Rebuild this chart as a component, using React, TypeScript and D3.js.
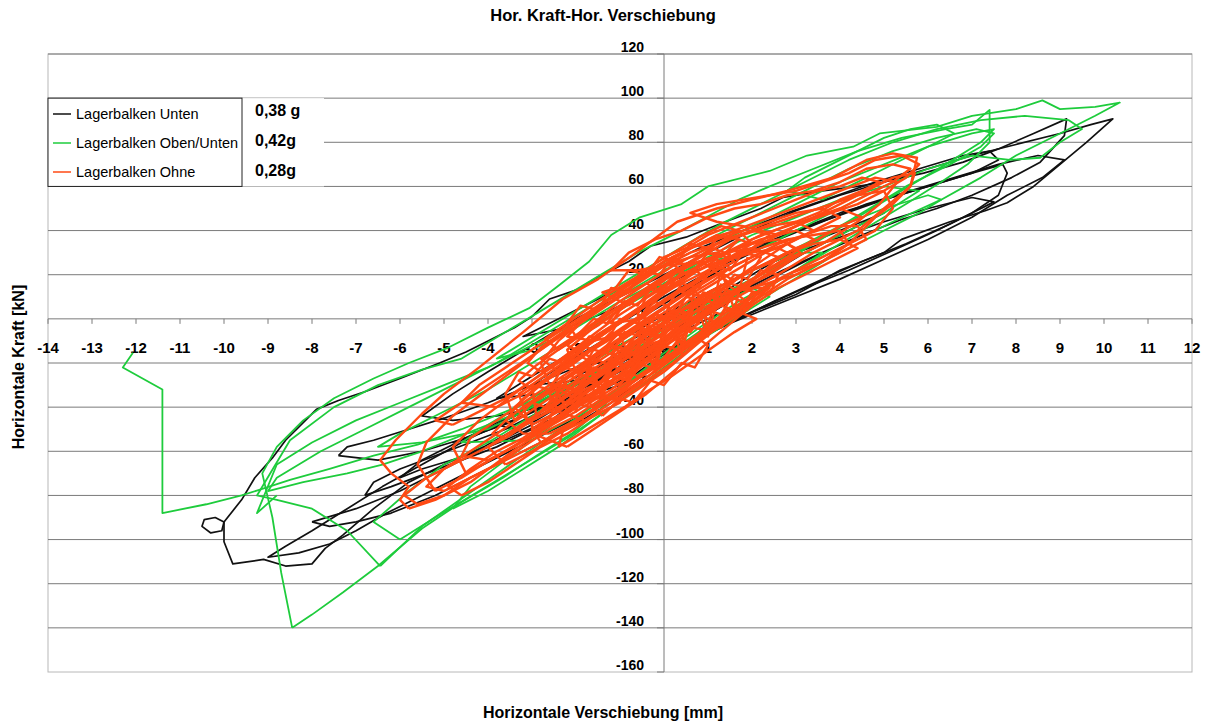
import React from 'react';
import * as d3 from 'd3';

const W = 1207;
const H = 722;

const xTickValues = [-14, -13, -12, -11, -10, -9, -8, -7, -6, -5, -4, -3, -2, -1, 0, 1, 2, 3, 4, 5, 6, 7, 8, 9, 10, 11, 12];
const yTickValues = [-160, -140, -120, -100, -80, -60, -40, -20, 0, 20, 40, 60, 80, 100, 120];

const seriesNames = ['Lagerbalken Unten', 'Lagerbalken Oben/Unten', 'Lagerbalken Ohne'];
const seriesLabels = ['0,38 g', '0,42g', '0,28g'];
const seriesColors = ['#111111', '#1ecc3c', '#ff4a14'];
const seriesWidths = [1.7, 1.8, 2.4];

type P = [number, number];

const blackLoops: P[][] = [
  [[-0.2,-15],[-1.2,-26],[-2.3,-38],[-3.2,-48],[-4.1,-58],[-5.0,-66],[-5.8,-74],[-6.6,-86],[-7.3,-98],[-7.7,-104],[-8.0,-111],[-8.6,-112],[-9.1,-109],[-9.8,-111],[-10.0,-101],[-10.0,-92],[-9.6,-82],[-9.3,-72],[-8.9,-63],[-8.6,-55],[-8.2,-47],[-7.9,-41],[-7.4,-37],[-6.8,-33],[-6.0,-27],[-5.1,-20],[-4.5,-15],[-4.0,-10],[-3.4,-4],[-3.0,1],[-2.6,9],[-2.0,13],[-1.5,19],[-0.8,26],[-0.3,33],[0.5,37],[1.4,44],[2.2,50],[2.7,55],[3.6,58],[4.4,60],[5.0,62],[5.9,66],[6.8,71],[7.6,77],[8.4,84],[9.15,90.6],[9.1,83],[8.55,71],[7.9,64],[7.0,56],[6.2,50],[5.4,45],[4.5,38],[3.6,30],[2.7,22],[1.8,13],[1.0,5],[0.3,-4],[-0.2,-15]],
  [[-10.0,-92],[-10.2,-90],[-10.45,-91],[-10.5,-94],[-10.3,-97],[-10.05,-96],[-10.0,-92]],
  [[-1.0,-30],[-0.3,-20],[0.3,-12],[1.0,-6],[2.0,3],[3.0,11],[4.0,22],[5.0,30],[5.4,36],[6.5,44],[7.3,49],[7.8,52.6],[8.4,60],[9.0,70],[9.6,80],[10.2,90.6],[9.7,88],[9.0,84],[8.0,79],[7.0,74],[6.0,68],[5.0,62],[4.0,56],[3.0,49],[2.0,40],[1.0,30],[0.0,20],[-1.0,10],[-2.0,0],[-3.0,-12],[-4.0,-24],[-4.8,-34],[-5.5,-44],[-4.8,-46],[-3.8,-44],[-2.8,-40],[-1.8,-35],[-1.0,-30]],
  [[-1.5,-40],[-2.5,-50],[-3.5,-60],[-4.5,-70],[-5.5,-80],[-6.3,-88],[-7.0,-96],[-7.6,-102],[-8.3,-106],[-9.0,-108],[-8.6,-103],[-8.0,-96],[-7.2,-86],[-6.4,-76],[-5.5,-66],[-4.6,-56],[-3.6,-46],[-2.6,-36],[-1.6,-26],[-0.6,-16],[0.4,-6],[1.2,2],[0.6,-10],[-0.4,-24],[-1.5,-40]],
  [[-7.4,-62],[-7.2,-58],[-6.6,-55],[-5.8,-50],[-5.0,-45],[-4.0,-38],[-3.0,-30],[-2.0,-22],[-1.0,-12],[0.0,-2],[1.0,8],[2.0,16],[1.5,8],[0.5,-4],[-0.5,-16],[-1.5,-28],[-2.5,-38],[-3.5,-47],[-4.5,-54],[-5.5,-60],[-6.5,-64],[-7.4,-62]],
  [[-8.0,-92],[-7.6,-94],[-7.0,-92],[-6.2,-88],[-5.2,-80],[-4.2,-70],[-3.2,-60],[-2.2,-50],[-1.2,-38],[-0.4,-26],[-1.0,-28],[-2.0,-38],[-3.0,-48],[-4.0,-58],[-5.0,-68],[-6.0,-78],[-7.0,-86],[-8.0,-92]],
  [[0.0,-16],[1.0,-6],[2.0,2],[3.0,10],[4.0,18],[5.0,27],[6.0,36],[7.0,46],[7.8,56],[8.6,64],[9.1,72],[8.5,74],[7.6,70],[6.6,64],[5.6,58],[4.6,52],[3.6,44],[2.6,36],[1.6,26],[0.6,14],[-0.4,2],[-1.4,-10],[-2.4,-22],[-3.0,-30],[-2.0,-28],[-1.0,-22],[0.0,-16]],
  [[0.2,-14],[1.2,-4],[2.2,5],[3.2,14],[4.2,22],[5.2,31],[6.2,40],[7.0,48],[7.6,56],[7.8,66],[7.7,70],[7.0,66],[6.0,60],[5.0,54],[4.0,48],[3.0,40],[2.0,31],[1.0,21],[0.0,10],[-1.0,-2],[-2.0,-14],[-3.0,-26],[-3.8,-36],[-2.8,-34],[-1.8,-28],[-0.8,-22],[0.2,-14]],
  [[0.5,-12],[1.5,-2],[2.5,8],[3.5,17],[4.5,26],[5.5,34],[6.5,43],[7.5,53],[7.0,55],[6.0,50],[5.0,44],[4.0,37],[3.0,30],[2.0,22],[1.0,12],[0.0,2],[-1.0,-10],[-2.0,-22],[-1.0,-18],[0.5,-12]],
  [[-1.0,-20],[-2.0,-30],[-3.0,-40],[-4.0,-50],[-4.8,-56],[-4.2,-52],[-3.2,-44],[-2.2,-34],[-1.2,-24],[-0.2,-12],[0.8,0],[1.8,12],[2.8,22],[3.6,30],[3.0,24],[2.0,14],[1.0,2],[0.0,-9],[-1.0,-20]],
  [[-2.5,-45],[-3.5,-54],[-4.5,-62],[-5.5,-68],[-6.0,-72],[-5.5,-64],[-4.5,-54],[-3.5,-44],[-2.5,-34],[-1.5,-22],[-0.5,-10],[0.5,2],[1.5,14],[2.5,26],[3.5,36],[4.5,44],[5.0,48],[4.2,40],[3.2,30],[2.2,18],[1.2,6],[0.2,-8],[-0.8,-20],[-1.8,-34],[-2.5,-45]],
  [[3.0,40],[4.0,47],[5.0,54],[6.0,60],[7.0,66],[7.6,72],[7.4,76],[6.8,74],[5.8,68],[4.8,62],[3.8,55],[2.8,48],[1.8,40],[0.8,32],[-0.2,22],[-1.2,12],[-2.2,2],[-3.2,-8],[-2.2,-4],[-1.2,4],[-0.2,14],[1.0,24],[2.0,32],[3.0,40]],
  [[-6.8,-80],[-6.2,-76],[-5.4,-70],[-4.6,-64],[-3.8,-58],[-3.0,-50],[-2.2,-42],[-1.6,-36],[-2.0,-34],[-2.8,-42],[-3.6,-50],[-4.4,-56],[-5.2,-62],[-6.0,-68],[-6.6,-74],[-6.8,-80]],
  [[-3.4,-50],[-2.9,-46],[-2.4,-40],[-1.9,-34],[-1.4,-26],[-1.8,-24],[-2.3,-30],[-2.8,-36],[-3.3,-42],[-3.8,-48],[-3.4,-50]],
];

const greenLoops: P[][] = [
  [[-8.45,-140],[-8.0,-134],[-7.3,-124],[-6.5,-112],[-5.5,-95],[-4.6,-83],[-3.66,-72],[-2.9,-62],[-2.1,-52],[-1.5,-42],[-1.0,-32],[-0.1,-17],[0.8,-4],[1.7,8],[2.8,20],[4.0,32],[5.2,44],[6.3,54],[7.2,64],[8.0,74],[9.0,84],[9.8,92],[10.36,98],[9.8,96],[9.0,95],[8.6,99],[8.0,95],[7.0,92],[6.2,87],[4.9,84],[4.3,78],[3.25,74],[2.4,67],[1.0,60],[0.4,52],[-0.55,46],[-1.2,38],[-1.7,26],[-2.4,15],[-3.05,5],[-4.0,-4],[-4.9,-13],[-5.8,-20],[-6.6,-27],[-7.5,-36],[-8.2,-46],[-8.8,-58],[-9.13,-70],[-8.9,-90],[-8.7,-115],[-8.45,-140]],
  [[-6.45,-112],[-5.5,-94],[-4.5,-80],[-3.5,-66],[-2.5,-52],[-1.5,-38],[-0.5,-24],[0.5,-10],[1.5,4],[2.5,16],[3.5,28],[4.5,40],[5.5,52],[6.3,62],[6.9,70],[7.4,80],[7.4,94.7],[7.0,88],[6.4,86],[5.4,82],[4.4,76],[3.4,68],[2.4,60],[1.7,54],[0.4,40],[-0.6,30],[-1.6,18],[-2.6,6],[-3.6,-6],[-4.6,-18],[-5.5,-23],[-6.5,-30],[-7.5,-40],[-8.5,-55],[-9.25,-80],[-8.8,-82],[-8.0,-86],[-7.2,-96],[-6.45,-112]],
  [[-12.07,-15.4],[-12.3,-22],[-11.4,-32],[-11.4,-88],[-10.4,-84],[-9.6,-80],[-9.2,-77.5],[-8.5,-73],[-7.6,-68],[-6.6,-62],[-5.6,-57],[-4.6,-50],[-3.6,-42],[-2.6,-34],[-1.6,-24],[-0.6,-12],[0.4,0],[1.4,12],[2.4,22],[3.4,34],[4.4,46],[5.4,58],[6.4,70],[7.2,80],[7.5,86],[7.0,84],[6.0,78],[5.0,70],[4.0,62],[3.0,52],[2.0,42],[1.0,32],[0.0,22],[-1.0,10],[-2.0,-2],[-3.0,-12],[-4.0,-22],[-5.0,-30],[-6.0,-38],[-7.0,-46],[-8.0,-56],[-8.8,-66],[-9.25,-88],[-8.8,-80]],
  [[-5.5,-60],[-4.5,-52],[-3.5,-44],[-2.5,-34],[-1.5,-24],[-0.5,-12],[0.5,0],[1.5,12],[2.5,24],[3.5,36],[4.5,48],[5.5,60],[6.5,70],[7.2,78],[7.5,84],[7.1,86],[6.2,82],[5.2,76],[4.2,68],[3.2,58],[2.2,48],[1.2,38],[0.2,28],[-0.8,16],[-1.8,4],[-2.8,-8],[-3.8,-20],[-4.8,-30],[-5.8,-40],[-6.8,-50],[-7.8,-60],[-8.8,-72],[-9.0,-78],[-8.2,-74],[-7.2,-70],[-6.4,-66],[-5.5,-60]],
  [[-6.0,-100],[-5.2,-90],[-4.2,-78],[-3.2,-66],[-2.2,-54],[-1.2,-40],[-0.2,-26],[0.8,-10],[1.8,4],[2.8,16],[3.8,28],[4.8,38],[5.8,48],[6.3,54],[6.0,56],[5.0,50],[4.0,42],[3.0,32],[2.0,22],[1.0,10],[0.0,-2],[-1.0,-16],[-2.0,-30],[-3.0,-44],[-4.0,-56],[-5.0,-66],[-5.8,-78],[-6.6,-92],[-6.0,-100]],
  [[2.0,30],[3.0,40],[4.0,50],[5.0,60],[6.0,68],[7.0,74],[7.86,72],[8.55,73],[9.0,80],[9.5,86],[9.2,90],[8.2,92],[7.2,90],[6.2,86],[5.2,80],[4.2,72],[3.2,62],[2.2,52],[1.2,42],[0.2,30],[-0.8,18],[-1.8,6],[-2.8,-6],[-3.8,-18],[-3.0,-14],[-2.0,-4],[-1.0,8],[0.0,18],[1.0,26],[2.0,30]],
  [[-4.0,-50],[-3.0,-40],[-2.0,-30],[-1.0,-18],[0.0,-6],[1.0,6],[2.0,18],[3.0,28],[4.0,38],[5.0,48],[5.8,58],[5.0,60],[4.0,54],[3.0,46],[2.0,38],[1.0,28],[0.0,16],[-1.0,4],[-2.0,-8],[-3.0,-20],[-4.0,-32],[-5.0,-42],[-6.0,-52],[-6.5,-58],[-5.5,-56],[-4.0,-50]],
  [[-3.0,-55],[-2.0,-44],[-1.0,-32],[0.0,-18],[1.0,-4],[2.0,10],[3.0,22],[3.6,30],[3.0,30],[2.0,22],[1.0,12],[0.0,0],[-1.0,-12],[-2.0,-24],[-3.0,-36],[-4.0,-48],[-4.6,-56],[-3.0,-55]],
  [[-4.8,-86],[-4.0,-78],[-3.2,-68],[-2.4,-58],[-1.6,-46],[-0.8,-34],[0.0,-22],[0.8,-10],[1.6,0],[2.4,10],[2.0,14],[1.2,6],[0.4,-4],[-0.4,-16],[-1.2,-28],[-2.0,-40],[-2.8,-52],[-3.6,-64],[-4.4,-76],[-4.8,-86]],
  [[3.6,54],[4.2,60],[4.8,66],[5.4,72],[6.0,78],[6.6,84],[6.2,88],[5.6,86],[5.0,82],[4.4,76],[3.8,70],[3.2,64],[2.8,58],[3.6,54]],
];

const redLoops: P[][] = [
  [[-5.8,-86],[-5.2,-82],[-4.4,-74],[-3.3,-58],[-2.5,-47],[-1.75,-37],[-0.6,-22],[0.2,-8],[1.3,6],[2.5,19],[3.4,30],[4.4,40],[5.0,50],[5.6,60],[5.75,73],[5.2,75],[4.6,72],[3.84,64],[2.8,58],[2.0,54],[1.2,50],[0.3,44],[-0.77,28],[-1.5,18],[-2.3,9],[-3.2,-6],[-4.2,-22],[-5.0,-34],[-5.5,-43],[-6.1,-55],[-6.45,-64],[-6.2,-70],[-5.8,-76],[-6.0,-82],[-5.8,-86]],
  [[-5.2,-78],[-4.6,-72],[-3.8,-62],[-2.9,-52],[-2.0,-42],[-1.2,-32],[-0.4,-20],[0.4,-6],[1.2,6],[2.0,16],[2.8,26],[3.6,34],[4.4,44],[4.9,52],[5.3,62],[4.8,64],[4.0,58],[3.2,52],[2.4,46],[1.6,40],[0.8,34],[0.0,26],[-0.8,16],[-1.6,4],[-2.4,-8],[-3.2,-20],[-4.0,-32],[-4.8,-44],[-5.4,-56],[-5.6,-66],[-5.2,-78]],
  [[-4.5,-70],[-3.6,-60],[-2.8,-50],[-2.0,-38],[-1.2,-28],[-0.4,-16],[0.4,-4],[1.2,8],[2.0,18],[2.8,28],[3.4,36],[3.0,40],[2.2,36],[1.4,30],[0.6,22],[-0.2,12],[-1.0,2],[-1.8,-10],[-2.6,-22],[-3.4,-34],[-4.2,-46],[-4.8,-58],[-4.5,-70]],
  [[-3.0,-48],[-2.4,-42],[-1.8,-34],[-1.2,-26],[-0.6,-18],[0.0,-10],[0.6,-2],[1.2,6],[1.8,14],[2.4,20],[3.0,28],[2.6,32],[2.0,30],[1.4,26],[0.8,20],[0.2,14],[-0.4,6],[-1.0,-2],[-1.6,-10],[-2.2,-20],[-2.8,-30],[-3.4,-40],[-3.0,-48]],
  [[-2.6,-52],[-2.0,-46],[-1.4,-38],[-0.8,-30],[-0.2,-22],[0.4,-12],[1.0,-4],[1.6,4],[2.2,12],[2.8,20],[3.6,26],[4.2,34],[4.0,40],[3.4,38],[2.8,36],[2.2,32],[1.6,28],[1.0,24],[0.4,18],[-0.2,10],[-0.8,2],[-1.4,-6],[-2.0,-16],[-2.6,-26],[-3.2,-36],[-3.6,-46],[-3.2,-52],[-2.6,-52]],
  [[-1.8,-46],[-1.2,-40],[-0.6,-32],[0.0,-24],[0.6,-14],[1.2,-4],[1.6,4],[1.0,8],[0.4,4],[-0.2,-2],[-0.8,-10],[-1.4,-18],[-2.0,-26],[-2.6,-34],[-2.4,-42],[-1.8,-46]],
  [[-1.4,-30],[-0.8,-24],[-0.2,-16],[0.4,-6],[1.0,4],[1.6,12],[2.2,20],[2.6,28],[2.0,32],[1.4,30],[0.8,26],[0.2,20],[-0.4,12],[-1.0,4],[-1.6,-4],[-2.2,-14],[-2.0,-24],[-1.4,-30]],
  [[-0.6,-26],[0.0,-18],[0.6,-10],[1.2,0],[1.8,8],[2.4,16],[3.0,22],[3.6,28],[4.2,34],[4.8,40],[5.2,50],[5.0,58],[4.4,56],[3.8,52],[3.2,48],[2.6,44],[2.0,40],[1.4,36],[0.8,30],[0.2,24],[-0.4,16],[-1.0,8],[-1.6,-2],[-2.2,-12],[-1.6,-18],[-0.6,-26]],
  [[-4.0,-64],[-3.4,-58],[-2.8,-50],[-2.2,-42],[-1.6,-34],[-1.0,-26],[-0.4,-18],[0.2,-10],[0.8,-2],[0.4,4],[-0.2,0],[-0.8,-6],[-1.4,-14],[-2.0,-22],[-2.6,-30],[-3.2,-38],[-3.8,-46],[-4.4,-54],[-4.6,-62],[-4.0,-64]],
  [[-2.0,-36],[-1.4,-28],[-0.8,-20],[-0.2,-12],[0.4,-2],[1.0,8],[1.6,18],[2.2,26],[2.8,34],[3.4,40],[4.0,46],[3.6,50],[3.0,48],[2.4,44],[1.8,40],[1.2,36],[0.6,32],[0.0,26],[-0.6,18],[-1.2,10],[-1.8,0],[-2.4,-10],[-2.8,-20],[-2.6,-30],[-2.0,-36]],
  [[-0.2,-20],[0.4,-14],[1.0,-6],[1.6,2],[2.2,10],[2.8,18],[3.4,24],[4.0,30],[4.6,36],[4.4,42],[3.8,42],[3.2,38],[2.6,34],[2.0,28],[1.4,22],[0.8,16],[0.2,8],[-0.4,0],[-1.0,-8],[-0.8,-16],[-0.2,-20]],
  [[-3.6,-66],[-3.0,-60],[-2.4,-52],[-1.8,-46],[-1.2,-38],[-0.6,-30],[0.0,-20],[0.6,-12],[0.2,-8],[-0.4,-12],[-1.0,-18],[-1.6,-26],[-2.2,-34],[-2.8,-42],[-3.4,-50],[-4.0,-58],[-3.6,-66]],
  [[1.0,26],[1.6,32],[2.2,38],[2.8,42],[3.4,46],[4.0,50],[4.6,56],[5.2,62],[5.6,68],[5.2,70],[4.6,68],[4.0,62],[3.4,58],[2.8,56],[2.2,52],[1.6,50],[1.0,46],[0.4,40],[-0.2,36],[-0.8,30],[-1.2,22],[-0.6,22],[0.0,24],[1.0,26]],
  [[-5.0,-78],[-4.2,-70],[-3.4,-62],[-2.6,-54],[-1.8,-44],[-1.0,-34],[-0.2,-24],[0.6,-12],[1.4,-2],[2.0,6],[1.6,12],[1.0,10],[0.4,4],[-0.2,-4],[-0.8,-12],[-1.4,-20],[-2.0,-28],[-2.6,-36],[-3.2,-44],[-3.8,-52],[-4.4,-60],[-5.0,-68],[-5.4,-76],[-5.0,-78]],
  [[-0.8,-6],[-0.2,2],[0.4,10],[1.0,18],[1.6,24],[2.2,30],[2.8,34],[3.4,40],[3.0,44],[2.4,42],[1.8,38],[1.2,34],[0.6,30],[0.0,24],[-0.6,16],[-1.2,8],[-1.8,0],[-2.2,-8],[-1.6,-10],[-0.8,-6]],
  [[-2.2,-58],[-1.6,-50],[-1.0,-42],[-0.4,-34],[0.2,-24],[0.8,-14],[1.4,-4],[2.0,6],[2.6,14],[3.2,20],[3.8,26],[4.4,32],[4.0,36],[3.4,34],[2.8,30],[2.2,24],[1.6,18],[1.0,12],[0.4,4],[-0.2,-4],[-0.8,-14],[-1.4,-24],[-2.0,-34],[-2.6,-44],[-3.0,-52],[-2.2,-58]],
  [[-3.8,-40],[-3.2,-34],[-2.6,-26],[-2.0,-18],[-1.4,-10],[-0.8,-2],[-0.2,6],[0.4,14],[1.0,20],[1.6,26],[1.2,30],[0.6,28],[0.0,24],[-0.6,18],[-1.2,10],[-1.8,2],[-2.4,-6],[-3.0,-14],[-3.6,-22],[-4.2,-30],[-4.6,-38],[-3.8,-40]],
  [[2.6,38],[3.2,44],[3.8,48],[4.4,52],[5.0,58],[5.5,64],[5.8,70],[5.4,74],[4.8,72],[4.2,66],[3.6,62],[3.0,58],[2.4,56],[1.8,54],[1.2,52],[0.6,48],[1.2,44],[1.8,42],[2.6,38]],
  [[3.0,20],[3.6,26],[4.2,34],[4.5,40],[4.8,46],[5.2,52],[5.6,60],[5.7,66],[5.2,64],[4.6,58],[4.0,52],[3.4,46],[2.8,40],[2.2,34],[1.6,28],[1.0,20],[0.4,12],[1.0,10],[2.0,14],[3.0,20]],
  [[-1.0,-36],[-0.4,-28],[0.2,-20],[0.8,-10],[1.2,-2],[0.8,2],[0.2,-4],[-0.4,-12],[-1.0,-20],[-1.6,-28],[-1.6,-36],[-1.0,-36]],
  [[-2.4,-24],[-1.8,-16],[-1.2,-8],[-0.6,0],[0.0,8],[0.6,16],[1.2,22],[0.8,26],[0.2,22],[-0.4,14],[-1.0,6],[-1.6,-2],[-2.2,-10],[-2.8,-18],[-2.4,-24]],
  [[0.0,-4],[0.6,4],[1.2,12],[1.8,20],[2.4,26],[3.0,32],[2.6,36],[2.0,34],[1.4,30],[0.8,24],[0.2,18],[-0.4,10],[-0.6,2],[0.0,-4]],
  [[-1.6,-40],[-1.0,-32],[-0.4,-24],[0.2,-16],[0.8,-8],[1.4,0],[2.0,8],[2.4,14],[1.8,14],[1.2,8],[0.6,2],[0.0,-6],[-0.6,-14],[-1.2,-22],[-1.8,-30],[-2.2,-38],[-1.6,-40]],
  [[-4.8,-48],[-4.2,-42],[-3.6,-36],[-3.0,-28],[-2.4,-20],[-1.8,-12],[-1.2,-4],[-0.6,4],[0.0,12],[-0.4,16],[-1.0,10],[-1.6,2],[-2.2,-6],[-2.8,-14],[-3.4,-22],[-4.0,-30],[-4.6,-38],[-5.2,-46],[-4.8,-48]],
  [[-3.0,-52],[-2.5,-45],[-2.1,-41],[-1.6,-33],[-1.1,-27],[-0.7,-20],[-0.2,-14],[0.3,-6],[0.8,0],[1.3,8],[1.7,12],[1.4,16],[0.9,10],[0.4,4],[-0.1,-4],[-0.6,-10],[-1.1,-18],[-1.6,-24],[-2.1,-31],[-2.6,-38],[-3.0,-46],[-3.0,-52]],
  [[-3.1,-46],[-2.6,-40],[-2.2,-35],[-1.7,-28],[-1.2,-21],[-0.8,-15],[-0.3,-8],[0.2,-2],[0.7,5],[1.2,12],[1.6,17],[1.3,21],[0.8,15],[0.3,9],[-0.2,2],[-0.7,-5],[-1.2,-12],[-1.7,-19],[-2.2,-26],[-2.7,-33],[-3.2,-40],[-3.1,-46]],
  [[-3.2,-40],[-2.7,-34],[-2.3,-28],[-1.8,-22],[-1.3,-15],[-0.9,-9],[-0.4,-2],[0.1,4],[0.6,11],[1.1,17],[1.5,23],[1.2,27],[0.7,21],[0.2,14],[-0.3,8],[-0.8,1],[-1.3,-6],[-1.8,-13],[-2.3,-20],[-2.8,-27],[-3.3,-34],[-3.2,-40]],
  [[-3.0,-32],[-2.6,-27],[-2.1,-21],[-1.7,-15],[-1.2,-9],[-0.7,-2],[-0.3,4],[0.2,10],[0.7,17],[1.1,23],[1.5,29],[1.1,32],[0.6,26],[0.1,20],[-0.4,13],[-0.9,7],[-1.4,0],[-1.9,-7],[-2.4,-14],[-2.9,-21],[-3.3,-28],[-3.0,-32]],
  [[-2.8,-24],[-2.4,-19],[-1.9,-13],[-1.5,-7],[-1.0,-1],[-0.5,6],[-0.1,12],[0.4,18],[0.9,25],[1.3,31],[1.7,36],[1.2,38],[0.7,33],[0.2,27],[-0.3,21],[-0.8,14],[-1.3,8],[-1.8,1],[-2.3,-6],[-2.8,-13],[-3.1,-20],[-2.8,-24]],
  [[-2.4,-14],[-2.0,-9],[-1.5,-3],[-1.1,3],[-0.6,10],[-0.1,16],[0.3,22],[0.8,28],[1.2,34],[1.7,40],[1.3,42],[0.8,37],[0.3,31],[-0.2,25],[-0.7,18],[-1.2,12],[-1.7,5],[-2.2,-2],[-2.7,-9],[-2.4,-14]],
  [[-2.8,-56],[-2.3,-50],[-1.9,-45],[-1.4,-38],[-0.9,-32],[-0.5,-25],[0.0,-19],[0.5,-12],[1.0,-5],[1.5,2],[1.9,7],[1.5,10],[1.0,4],[0.5,-2],[0.0,-9],[-0.5,-15],[-1.0,-22],[-1.5,-29],[-2.0,-36],[-2.5,-43],[-3.0,-50],[-2.8,-56]],
  [[-2.4,-58],[-1.9,-52],[-1.4,-46],[-0.9,-40],[-0.4,-33],[0.1,-27],[0.6,-20],[1.1,-13],[1.6,-6],[2.1,0],[1.7,3],[1.2,-3],[0.7,-10],[0.2,-17],[-0.3,-23],[-0.8,-30],[-1.3,-37],[-1.8,-44],[-2.3,-51],[-2.4,-58]],
  [[-2.0,-40],[-1.7,-22],[-1.4,-36],[-1.1,-16],[-0.8,-30],[-0.5,-8],[-0.2,-24],[0.1,0],[0.4,-16],[0.7,8],[1.0,-8],[1.3,16]],
  [[-2.6,-46],[-2.3,-26],[-2.0,-42],[-1.7,-20],[-1.4,-34],[-1.1,-12],[-0.8,-28],[-0.5,-4],[-0.2,-20],[0.1,6],[0.4,-12],[0.7,14],[1.0,-4],[1.3,22],[1.6,4],[1.9,28]],
  [[-0.5,0],[0.0,8],[0.5,14],[1.0,22],[1.5,28],[2.0,32],[2.4,38],[2.0,40],[1.5,36],[1.0,30],[0.5,24],[0.0,18],[-0.5,12],[-1.0,4],[-1.2,-2],[-0.5,0]],
  [[-3.6,-54],[-3.2,-48],[-2.8,-44],[-2.4,-38],[-2.0,-32],[-1.6,-26],[-1.2,-20],[-0.8,-14],[-1.2,-12],[-1.6,-18],[-2.0,-24],[-2.4,-30],[-2.8,-36],[-3.2,-40],[-3.6,-46],[-3.9,-52],[-3.6,-54]],
  [[0.2,-8],[0.7,0],[1.2,6],[1.7,14],[2.2,20],[2.7,26],[3.1,30],[2.8,34],[2.3,30],[1.8,24],[1.3,18],[0.8,12],[0.3,4],[-0.2,-2],[-0.3,-8],[0.2,-8]],
  [[-1.8,-30],[-1.4,-24],[-1.0,-16],[-0.6,-10],[-0.2,-2],[0.2,4],[0.6,12],[1.0,18],[0.7,22],[0.3,16],[-0.1,10],[-0.5,2],[-0.9,-4],[-1.3,-12],[-1.7,-18],[-2.1,-26],[-1.8,-30]],
  [[-5.6,-84],[-5.0,-80],[-4.4,-72],[-3.8,-66],[-3.2,-58],[-2.6,-50],[-2.0,-44],[-1.4,-36],[-0.8,-28],[-1.2,-26],[-1.8,-32],[-2.4,-40],[-3.0,-46],[-3.6,-54],[-4.2,-60],[-4.8,-66],[-5.4,-72],[-5.9,-80],[-5.6,-84]],
  [[-4.6,-80],[-4.0,-74],[-3.4,-66],[-2.8,-58],[-2.2,-52],[-1.6,-44],[-1.0,-38],[-1.4,-34],[-2.0,-40],[-2.6,-46],[-3.2,-54],[-3.8,-60],[-4.4,-68],[-4.9,-76],[-4.6,-80]],
  [[0.5,20],[1.0,26],[1.5,30],[2.0,36],[2.5,40],[3.0,44],[3.5,48],[4.0,54],[4.5,58],[4.9,62],[4.5,64],[4.0,60],[3.5,58],[3.0,54],[2.5,50],[2.0,46],[1.5,42],[1.0,38],[0.5,32],[0.0,28],[0.5,20]],
  [[1.5,16],[2.0,22],[2.5,26],[3.0,32],[3.5,36],[4.0,42],[4.5,46],[4.0,50],[3.5,46],[3.0,42],[2.5,38],[2.0,34],[1.5,28],[1.0,24],[1.5,16]],
  [[-2.9,-44],[-2.5,-36],[-2.2,-38],[-1.8,-28],[-1.5,-30],[-1.1,-20],[-0.8,-22],[-0.4,-12],[-0.1,-14],[0.3,-4],[0.6,-6],[1.0,4],[1.3,2],[1.6,12],[1.2,14],[0.9,8],[0.5,10],[0.2,0],[-0.2,2],[-0.5,-8],[-0.9,-6],[-1.2,-16],[-1.6,-14],[-1.9,-24],[-2.3,-22],[-2.6,-32],[-3.0,-30],[-2.9,-44]],
  [[-2.2,-42],[-1.8,-34],[-1.5,-36],[-1.1,-26],[-0.8,-28],[-0.4,-18],[-0.1,-20],[0.3,-10],[0.6,-12],[1.0,-2],[1.3,-4],[1.6,6],[1.9,4],[2.1,12],[1.7,14],[1.4,8],[1.0,10],[0.7,0],[0.3,2],[0.0,-8],[-0.4,-6],[-0.7,-16],[-1.1,-14],[-1.4,-24],[-1.8,-22],[-2.1,-32],[-2.5,-30],[-2.2,-42]],
  [[-1.6,-20],[-1.2,-12],[-0.9,-14],[-0.5,-4],[-0.2,-6],[0.2,4],[0.5,2],[0.9,12],[1.2,10],[1.6,20],[1.9,18],[2.2,28],[1.8,30],[1.5,22],[1.1,24],[0.8,14],[0.4,16],[0.1,6],[-0.3,8],[-0.6,-2],[-1.0,0],[-1.3,-10],[-1.7,-8],[-2.0,-16],[-1.6,-20]],
  [[-3.4,-46],[-3.0,-38],[-2.7,-40],[-2.3,-30],[-2.0,-32],[-1.6,-22],[-1.3,-24],[-0.9,-14],[-0.6,-16],[-0.2,-6],[-0.5,-2],[-0.9,-8],[-1.2,-6],[-1.6,-14],[-1.9,-12],[-2.3,-20],[-2.6,-18],[-3.0,-26],[-3.3,-24],[-3.6,-34],[-3.4,-46]],
  [[-0.6,-20],[-0.2,-12],[0.2,-13],[0.6,-4],[1.0,-5],[1.4,4],[1.7,3],[2.0,12],[2.4,11],[2.6,20],[2.2,22],[1.9,14],[1.5,16],[1.2,7],[0.8,9],[0.5,0],[0.1,2],[-0.2,-8],[-0.6,-6],[-0.9,-16],[-0.6,-20]],
  [[-0.8,6],[-0.4,14],[-0.1,12],[0.3,22],[0.6,20],[1.0,30],[1.3,28],[1.7,36],[2.0,34],[1.7,40],[1.3,38],[1.0,32],[0.6,34],[0.3,26],[-0.1,28],[-0.4,20],[-0.8,22],[-1.1,14],[-1.4,12],[-0.8,6]],
  [[-2.0,-8],[-1.6,0],[-1.3,-2],[-0.9,8],[-0.6,6],[-0.2,16],[0.1,14],[0.5,24],[0.2,28],[-0.1,20],[-0.5,22],[-0.8,12],[-1.2,14],[-1.5,4],[-1.9,6],[-2.2,-2],[-2.0,-8]],
  [[-1.4,-44],[-1.0,-36],[-0.7,-38],[-0.3,-28],[0.0,-30],[0.4,-20],[0.7,-22],[1.0,-12],[0.7,-8],[0.3,-14],[0.0,-12],[-0.3,-22],[-0.6,-20],[-1.0,-30],[-1.3,-28],[-1.7,-38],[-1.4,-44]],
];

const FONT = '"Liberation Sans", Arial, sans-serif';

export default function App() {
  const x = d3.scaleLinear().domain([-14, 12]).range([48, 1192]);
  const y = d3.scaleLinear().domain([-160, 120]).range([672, 54]);
  const line = d3.line<P>().x((d) => x(d[0])).y((d) => y(d[1]));
  const allSeries = [blackLoops, greenLoops, redLoops];

  return (
    <svg width={W} height={H} style={{ position: 'absolute', left: 0, top: 0, background: '#fff' }} fontFamily={FONT}>
      <rect x={0} y={0} width={W} height={H} fill="#fff" />
      <text x={603} y={21} textAnchor="middle" fontSize={16.5} fontWeight="bold">Hor. Kraft-Hor. Verschiebung</text>
      <rect x={x(-14)} y={y(120)} width={x(12) - x(-14)} height={y(-160) - y(120)} fill="none" stroke="#b8b8b8" strokeWidth={1} />
      {yTickValues.filter((v) => v > -160).map((v) => (
        <line key={'g' + v} x1={x(-14)} x2={x(12)} y1={y(v)} y2={y(v)} stroke="#7a7a7a" strokeWidth={1} />
      ))}
      <line x1={x(0)} x2={x(0)} y1={y(120)} y2={y(-160)} stroke="#7a7a7a" strokeWidth={1} />
      {yTickValues.map((v) => (
        <line key={'yt' + v} x1={x(0) - 7} x2={x(0)} y1={y(v)} y2={y(v)} stroke="#7a7a7a" strokeWidth={1} />
      ))}
      {xTickValues.map((v) => (
        <line key={'xt' + v} x1={x(v)} x2={x(v)} y1={y(0)} y2={y(0) + 5} stroke="#7a7a7a" strokeWidth={1} />
      ))}
      {xTickValues.map((v) => (
        <text key={'xl' + v} x={x(v)} y={y(0) + 34} textAnchor="middle" fontSize={15} fontWeight="bold">{v}</text>
      ))}
      {yTickValues.map((v) => (
        <text key={'yl' + v} x={x(0) - 20} y={y(v) - 2} textAnchor="end" fontSize={14} fontWeight="bold">{v}</text>
      ))}
      {allSeries.map((loops, si) => (
        <g key={'s' + si}>
          {loops.map((pts, li) => (
            <path key={li} d={line(pts) || ''} fill="none" stroke={seriesColors[si]} strokeWidth={seriesWidths[si]} strokeLinejoin="round" />
          ))}
        </g>
      ))}
      <rect x={242} y={y(100)} width={82} height={y(60) - y(100)} fill="#fff" />
      <rect x={x(-14)} y={y(100)} width={242 - x(-14)} height={y(60) - y(100)} fill="#fff" stroke="#222" strokeWidth={1} />
      {seriesNames.map((name, i) => (
        <g key={'lg' + i}>
          <line x1={53} x2={71} y1={114 + i * 29} y2={114 + i * 29} stroke={seriesColors[i]} strokeWidth={1.5} />
          <text x={76} y={119 + i * 29} fontSize={14.5}>{name}</text>
          <text x={255} y={116 + i * 30} fontSize={16} fontWeight="bold">{seriesLabels[i]}</text>
        </g>
      ))}
      <text x={603} y={718} textAnchor="middle" fontSize={16} fontWeight="bold">Horizontale Verschiebung [mm]</text>
      <text transform={`translate(24, 367) rotate(-90)`} textAnchor="middle" fontSize={16} fontWeight="bold">Horizontale Kraft [kN]</text>
    </svg>
  );
}
